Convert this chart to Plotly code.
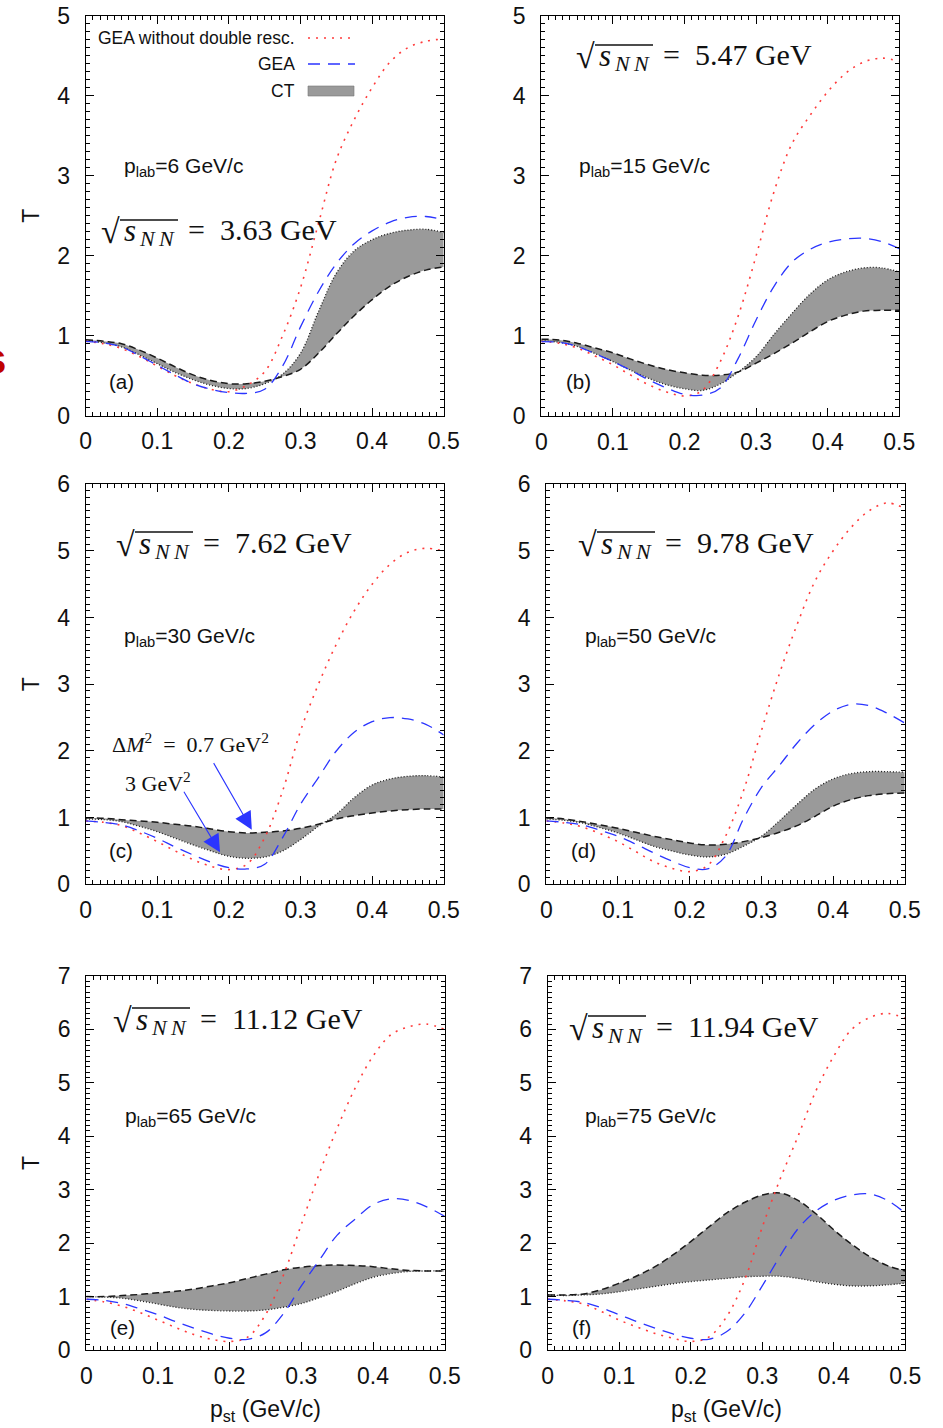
import plotly.graph_objects as go

W, H = 943, 1428

# transverse momentum grid (GeV/c)
P_ST = [0.0, 0.025, 0.05, 0.075, 0.1, 0.125, 0.15, 0.175, 0.2, 0.225, 0.25,
        0.275, 0.3, 0.325, 0.35, 0.375, 0.4, 0.425, 0.45, 0.475, 0.5]

# (a) p_lab = 6 GeV/c
a_nodr = [0.93, 0.90, 0.84, 0.74, 0.62, 0.50, 0.40, 0.33, 0.30, 0.38, 0.55,
          1.00, 1.60, 2.40, 3.20, 3.70, 4.10, 4.42, 4.60, 4.68, 4.71]
a_gea = [0.93, 0.91, 0.86, 0.75, 0.63, 0.51, 0.40, 0.33, 0.29, 0.28, 0.33,
         0.62, 1.11, 1.55, 1.90, 2.15, 2.31, 2.42, 2.48, 2.49, 2.45]
a_ct07 = [0.95, 0.93, 0.90, 0.82, 0.72, 0.61, 0.51, 0.44, 0.40, 0.40, 0.43,
          0.49, 0.58, 0.78, 1.02, 1.25, 1.45, 1.62, 1.74, 1.82, 1.86]
a_ct3 = [0.94, 0.91, 0.86, 0.76, 0.65, 0.54, 0.45, 0.38, 0.34, 0.34, 0.40,
         0.52, 0.78, 1.30, 1.78, 2.06, 2.20, 2.28, 2.32, 2.33, 2.29]

# (b) p_lab = 15 GeV/c
b_nodr = [0.93, 0.91, 0.85, 0.75, 0.64, 0.51, 0.39, 0.30, 0.25, 0.32, 0.68,
          1.25, 2.00, 2.80, 3.40, 3.75, 4.05, 4.28, 4.42, 4.47, 4.43]
b_gea = [0.93, 0.92, 0.87, 0.78, 0.68, 0.57, 0.45, 0.35, 0.27, 0.26, 0.35,
         0.72, 1.20, 1.62, 1.92, 2.08, 2.17, 2.21, 2.22, 2.18, 2.09]
b_ct07 = [0.96, 0.95, 0.91, 0.85, 0.79, 0.71, 0.64, 0.58, 0.54, 0.51, 0.51,
          0.55, 0.66, 0.78, 0.91, 1.05, 1.18, 1.26, 1.31, 1.32, 1.32]
b_ct3 = [0.94, 0.92, 0.87, 0.78, 0.68, 0.57, 0.47, 0.39, 0.34, 0.32, 0.40,
         0.55, 0.74, 1.02, 1.28, 1.52, 1.70, 1.80, 1.85, 1.85, 1.80]

# (c) p_lab = 30 GeV/c
c_nodr = [0.95, 0.93, 0.88, 0.77, 0.64, 0.50, 0.37, 0.27, 0.22, 0.30, 0.70,
          1.40, 2.30, 3.00, 3.60, 4.10, 4.50, 4.80, 4.98, 5.04, 5.00]
c_gea = [0.95, 0.93, 0.89, 0.80, 0.69, 0.56, 0.44, 0.33, 0.25, 0.23, 0.30,
         0.70, 1.20, 1.60, 2.00, 2.28, 2.44, 2.50, 2.48, 2.40, 2.24]
c_ct07 = [1.00, 0.99, 0.97, 0.95, 0.93, 0.90, 0.87, 0.83, 0.79, 0.77, 0.78,
          0.80, 0.84, 0.90, 0.98, 1.03, 1.07, 1.10, 1.12, 1.13, 1.13]
c_ct3 = [0.98, 0.97, 0.94, 0.87, 0.79, 0.69, 0.59, 0.50, 0.42, 0.39, 0.41,
         0.50, 0.67, 0.87, 1.05, 1.30, 1.49, 1.58, 1.62, 1.63, 1.61]

# (d) p_lab = 50 GeV/c
d_nodr = [0.95, 0.92, 0.86, 0.76, 0.64, 0.49, 0.34, 0.24, 0.19, 0.28, 0.72,
          1.40, 2.30, 3.15, 3.90, 4.55, 5.00, 5.35, 5.60, 5.72, 5.64]
d_gea = [0.95, 0.93, 0.89, 0.81, 0.72, 0.60, 0.47, 0.35, 0.25, 0.23, 0.42,
         0.98, 1.45, 1.78, 2.12, 2.40, 2.60, 2.70, 2.68, 2.57, 2.42]
d_ct07 = [1.00, 0.98, 0.94, 0.89, 0.84, 0.78, 0.72, 0.67, 0.62, 0.59, 0.60,
          0.64, 0.70, 0.78, 0.88, 1.02, 1.17, 1.27, 1.33, 1.36, 1.37]
d_ct3 = [0.98, 0.96, 0.92, 0.85, 0.77, 0.67, 0.57, 0.50, 0.44, 0.41, 0.45,
         0.57, 0.72, 0.95, 1.20, 1.43, 1.58, 1.66, 1.69, 1.69, 1.68]

# (e) p_lab = 65 GeV/c
e_nodr = [0.95, 0.90, 0.82, 0.70, 0.56, 0.42, 0.29, 0.20, 0.16, 0.24, 0.66,
          1.40, 2.35, 3.30, 4.15, 4.90, 5.50, 5.90, 6.05, 6.10, 6.00]
e_gea = [0.95, 0.93, 0.87, 0.77, 0.66, 0.53, 0.41, 0.30, 0.22, 0.20, 0.32,
         0.68, 1.20, 1.68, 2.15, 2.45, 2.72, 2.83, 2.80, 2.68, 2.50]
e_ct07 = [1.00, 1.00, 1.02, 1.04, 1.07, 1.10, 1.14, 1.20, 1.26, 1.34, 1.42,
          1.50, 1.55, 1.58, 1.59, 1.58, 1.56, 1.52, 1.49, 1.48, 1.48]
e_ct3 = [1.00, 0.99, 0.97, 0.92, 0.86, 0.80, 0.76, 0.74, 0.73, 0.73, 0.75,
         0.80, 0.87, 0.98, 1.10, 1.24, 1.36, 1.43, 1.47, 1.48, 1.48]

# (f) p_lab = 75 GeV/c
f_nodr = [0.95, 0.92, 0.86, 0.72, 0.56, 0.43, 0.31, 0.22, 0.16, 0.24, 0.62,
          1.30, 2.30, 3.20, 4.00, 4.85, 5.50, 6.00, 6.22, 6.30, 6.20]
f_gea = [0.95, 0.93, 0.89, 0.79, 0.66, 0.53, 0.41, 0.30, 0.22, 0.20, 0.34,
         0.68, 1.20, 1.76, 2.27, 2.60, 2.80, 2.90, 2.92, 2.80, 2.56]
f_ct07 = [1.03, 1.03, 1.05, 1.13, 1.25, 1.39, 1.56, 1.78, 2.03, 2.30, 2.56,
          2.76, 2.90, 2.94, 2.80, 2.55, 2.25, 1.98, 1.75, 1.58, 1.48]
f_ct3 = [1.03, 1.02, 1.03, 1.05, 1.09, 1.14, 1.19, 1.24, 1.28, 1.31, 1.34,
         1.37, 1.38, 1.38, 1.34, 1.28, 1.23, 1.20, 1.20, 1.22, 1.25]

LETTERS = ["a", "b", "c", "d", "e", "f"]
SQRT_S = ["3.63", "5.47", "7.62", "9.78", "11.12", "11.94"]
P_LAB = ["6", "15", "30", "50", "65", "75"]
Y_MAX = [5, 5, 6, 6, 7, 7]
X_TICKS = [0, 0.1, 0.2, 0.3, 0.4, 0.5]
X_TICKTEXT = ["0", "0.1", "0.2", "0.3", "0.4", "0.5"]

NODR = [a_nodr, b_nodr, c_nodr, d_nodr, e_nodr, f_nodr]
GEA = [a_gea, b_gea, c_gea, d_gea, e_gea, f_gea]
CT07 = [a_ct07, b_ct07, c_ct07, d_ct07, e_ct07, f_ct07]
CT3 = [a_ct3, b_ct3, c_ct3, d_ct3, e_ct3, f_ct3]

# frame of each panel in page pixels: left, right, top, bottom
FRAMES = [
    (85.7, 443.7, 15.7, 415.7),
    (541.3, 899.3, 15.7, 416.0),
    (85.7, 443.7, 484.3, 884.3),
    (546.3, 904.7, 484.3, 884.3),
    (86.3, 444.7, 976.0, 1350.0),
    (547.7, 905.3, 976.0, 1350.0),
]
# text anchors (page pixels)
SQRT_POS = [(100, 230), (575, 55), (115, 542), (577, 542), (112, 1018), (568, 1026)]
PLAB_POS = [(122, 167), (577, 167), (122, 637), (583, 637), (123, 1117), (583, 1117)]
TAG_POS = [(107, 382), (564, 382), (107, 850), (569, 850), (108, 1327), (570, 1327)]

RED = "#ff3b3b"
BLUE = "#2b35ff"
BAND = "#9a9a9a"
SANS = "Liberation Sans, Arial, sans-serif"
SERIF = "Liberation Serif, Times New Roman, serif"


def px(x):
    return x / W


def py(y):
    return 1 - y / H


def label(x, y, text, size, family=SANS, anchor="left", **kw):
    return dict(xref="paper", yref="paper", x=px(x), y=py(y), xanchor=anchor,
                yanchor="middle", showarrow=False, text=text,
                font=dict(family=family, size=size, color="#111"), **kw)


fig = go.Figure()
layout = {}
annotations = []
shapes = []

for i in range(6):
    n = "" if i == 0 else str(i + 1)
    xa, ya = "x" + n, "y" + n
    l, r, t, b = FRAMES[i]

    # CT band between the two Delta M^2 curves
    fig.add_trace(go.Scatter(x=P_ST, y=CT07[i], xaxis=xa, yaxis=ya, mode="lines",
                             line=dict(width=0, shape="spline", color=BAND),
                             showlegend=False, hoverinfo="skip"))
    fig.add_trace(go.Scatter(x=P_ST, y=CT3[i], xaxis=xa, yaxis=ya, mode="lines",
                             fill="tonexty", fillcolor=BAND,
                             line=dict(width=0, shape="spline", color=BAND),
                             showlegend=False, hoverinfo="skip"))
    # band edges
    fig.add_trace(go.Scatter(x=P_ST, y=CT07[i], xaxis=xa, yaxis=ya, mode="lines",
                             line=dict(width=1.5, shape="spline", color="#1a1a1a",
                                       dash="7px,4px"),
                             showlegend=False))
    fig.add_trace(go.Scatter(x=P_ST, y=CT3[i], xaxis=xa, yaxis=ya, mode="lines",
                             line=dict(width=1.3, shape="spline", color="#1a1a1a",
                                       dash="1px,2px"),
                             showlegend=False))
    # GEA without double rescattering
    fig.add_trace(go.Scatter(x=P_ST, y=NODR[i], xaxis=xa, yaxis=ya, mode="lines",
                             line=dict(width=1.6, shape="spline", color=RED,
                                       dash="2px,6px"),
                             showlegend=False))
    # GEA
    fig.add_trace(go.Scatter(x=P_ST, y=GEA[i], xaxis=xa, yaxis=ya, mode="lines",
                             line=dict(width=1.3, shape="spline", color=BLUE,
                                       dash="12px,8px"),
                             showlegend=False))

    axis_common = dict(showline=True, linecolor="black", linewidth=1.2,
                       mirror="allticks", ticks="inside", tickcolor="black",
                       tickwidth=1, showgrid=False, zeroline=False,
                       automargin=False,
                       tickfont=dict(family=SANS, size=23, color="#111"))
    layout["xaxis" + n] = dict(
        axis_common, domain=[px(l), px(r)], range=[0, 0.5], anchor=ya,
        tickvals=X_TICKS, ticktext=X_TICKTEXT, ticklen=8, ticklabelstandoff=5,
        minor=dict(dtick=0.01, tick0=0, ticklen=4, ticks="inside",
                   tickcolor="black", tickwidth=1))
    layout["yaxis" + n] = dict(
        axis_common, domain=[py(b), py(t)], range=[0, Y_MAX[i]], anchor=xa,
        dtick=1, tick0=0, ticklen=8, ticklabelstandoff=10,
        minor=dict(dtick=0.1, tick0=0, ticklen=4, ticks="inside",
                   tickcolor="black", tickwidth=1))

    # sqrt(s_NN) = ... GeV, set piece by piece
    sx, sy = SQRT_POS[i]
    annotations.append(label(sx - 1, sy + 2, "√", 34, SERIF))
    annotations.append(label(sx + 22, sy + 1, "<i>s</i>", 31, SERIF))
    annotations.append(label(sx + 37, sy + 9, "<i>N&#8201;N</i>", 22, SERIF))
    shapes.append(dict(type="line", xref="paper", yref="paper",
                       x0=px(sx + 20), x1=px(sx + 78), y0=py(sy - 10), y1=py(sy - 10),
                       line=dict(color="#111", width=1.3)))
    annotations.append(label(sx + 86, sy, "=  " + SQRT_S[i] + " GeV", 30, SERIF))

    lx, ly = PLAB_POS[i]
    annotations.append(label(lx, ly, "p<sub>lab</sub>=" + P_LAB[i] + " GeV/c", 21))
    tx, ty = TAG_POS[i]
    annotations.append(label(tx, ty, "(" + LETTERS[i] + ")", 20.5))

# y-axis titles (left column) and x-axis titles (bottom row)
for yc in [215.7, 684.3, 1163.0]:
    annotations.append(label(31, yc, "T", 23, anchor="center", textangle=-90))
for xc in [265.5, 726.5]:
    annotations.append(label(xc, 1410, "p<sub>st</sub> (GeV/c)", 23, anchor="center"))

# key in panel (a)
KEY_TEXT = ["GEA without double resc.", "GEA", "CT"]
KEY_Y = [38, 64, 91]
for txt, ky in zip(KEY_TEXT, KEY_Y):
    annotations.append(label(297, ky, txt, 17.5, anchor="right"))
shapes.append(dict(type="line", xref="paper", yref="paper",
                   x0=px(308), x1=px(350), y0=py(38), y1=py(38),
                   line=dict(color=RED, width=1.6, dash="2px,6px")))
shapes.append(dict(type="line", xref="paper", yref="paper",
                   x0=px(308), x1=px(355), y0=py(64), y1=py(64),
                   line=dict(color=BLUE, width=1.3, dash="12px,8px")))
shapes.append(dict(type="rect", xref="paper", yref="paper",
                   x0=px(308), x1=px(354), y0=py(96), y1=py(86),
                   fillcolor=BAND, line=dict(color="#777", width=0.6)))

# Delta M^2 labels with arrows in panel (c)
annotations.append(label(110, 743,
                         "Δ<i>M</i><sup>2</sup>&nbsp; = &nbsp;0.7 GeV<sup>2</sup>",
                         22, SERIF))
annotations.append(label(123, 782, "3 GeV<sup>2</sup>", 22, SERIF))
annotations.append(dict(xref="x3", yref="y3", x=0.232, y=0.82, text="",
                        showarrow=True, ax=-39, ay=-68, arrowhead=2,
                        arrowsize=3.2, arrowwidth=1.1, arrowcolor=BLUE))
annotations.append(dict(xref="x3", yref="y3", x=0.1876, y=0.48, text="",
                        showarrow=True, ax=-37, ay=-62, arrowhead=2,
                        arrowsize=3.2, arrowwidth=1.1, arrowcolor=BLUE))

# letter at the left page edge
annotations.append(dict(xref="paper", yref="paper", x=px(8), y=py(358),
                        xanchor="right", yanchor="middle", showarrow=False,
                        text="<b>s</b>",
                        font=dict(family=SANS, size=44, color="#c00000")))

fig.update_layout(
    template="none",
    width=W, height=H, margin=dict(l=0, r=0, t=0, b=0, autoexpand=False),
    paper_bgcolor="white", plot_bgcolor="white", showlegend=False,
    annotations=annotations, shapes=shapes, **layout)

fig.write_html("out.html")
